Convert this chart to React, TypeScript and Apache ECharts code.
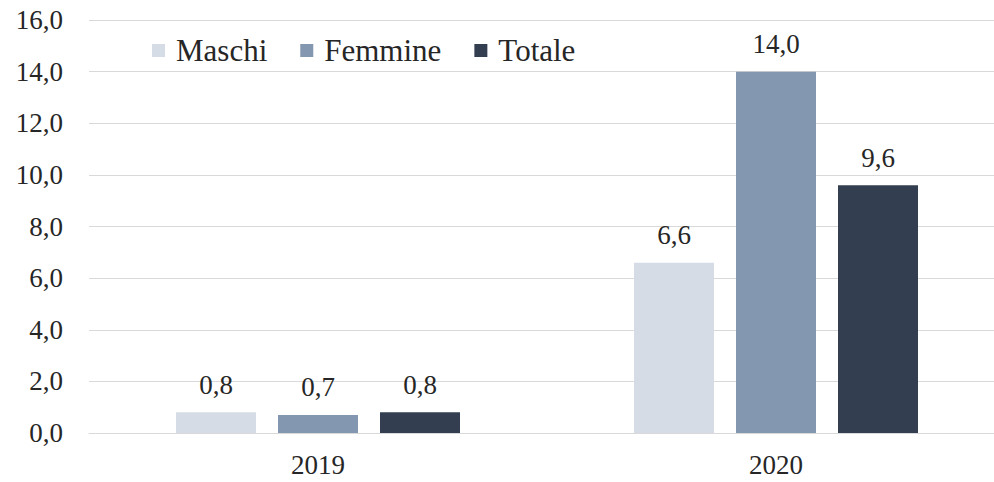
import React, { useEffect, useRef } from "react";
import * as echarts from "echarts";

const categories = ["2019", "2020"];
const maschi = [0.8, 6.6];
const femmine = [0.7, 14.0];
const totale = [0.8, 9.6];
const seriesNames = ["Maschi", "Femmine", "Totale"];
const colors = ["#D6DCE5", "#8497B0", "#333F50"];

const FONT = "Liberation Serif";
const fmt = (v: number) => v.toFixed(1).replace(".", ",");

export default function App() {
  const ref = useRef<HTMLDivElement>(null);
  useEffect(() => {
    if (!ref.current) return;
    const chart = echarts.init(ref.current, undefined, { renderer: "svg" });
    const data = [maschi, femmine, totale];
    chart.setOption({
      animation: false,
      textStyle: { fontFamily: FONT },
      legend: {
        left: 147,
        top: 30,
        itemWidth: 13,
        itemHeight: 13,
        itemGap: 33,
        icon: "rect",
        textStyle: { fontFamily: FONT, fontSize: 31, color: "#262626", padding: [0, 0, 0, 6] },
        data: seriesNames,
      },
      grid: { left: 89, width: 916, top: 20, bottom: 49, containLabel: false, outerBoundsMode: "none" },
      xAxis: {
        type: "category",
        data: categories,
        axisLine: { show: true, lineStyle: { color: "#D9D9D9" } },
        axisTick: { show: false },
        axisLabel: { fontFamily: FONT, fontSize: 27, color: "#262626", margin: 18 },
      },
      yAxis: {
        type: "value",
        min: 0,
        max: 16,
        interval: 2,
        axisLine: { show: false },
        axisTick: { show: false },
        splitLine: { lineStyle: { color: "#D9D9D9", width: 1 } },
        axisLabel: {
          fontFamily: FONT,
          fontSize: 27,
          color: "#262626",
          margin: 26,
          formatter: (v: number) => fmt(v),
        },
      },
      series: seriesNames.map((name, i) => ({
        name,
        type: "bar",
        data: data[i],
        barWidth: 80,
        barGap: "27.5%",
        itemStyle: { color: colors[i] },
        label: {
          show: true,
          position: "top",
          distance: 14,
          fontFamily: FONT,
          fontSize: 27,
          color: "#262626",
          formatter: (p: any) => fmt(p.value),
        },
      })),
    });
    return () => chart.dispose();
  }, []);
  return <div ref={ref} style={{ width: 994, height: 482, position: "absolute", left: 0, top: 0 }} />;
}
